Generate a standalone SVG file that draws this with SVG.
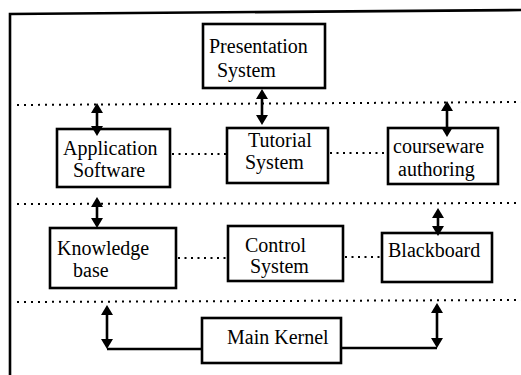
<svg xmlns="http://www.w3.org/2000/svg" width="521" height="375" viewBox="0 0 521 375">
  <style>
    .box { fill: #ffffff; stroke: #000000; stroke-width: 2.6; }
    .lbl { font-family: "Liberation Serif", "Times New Roman", "DejaVu Serif", serif; font-size: 20px; fill: #000000; }
    .frame { fill: none; stroke: #000000; stroke-width: 2.6; }
    .layer { fill: none; stroke: #000000; stroke-width: 2; stroke-dasharray: 2 5; }
    .link { fill: none; stroke: #000000; stroke-width: 2; stroke-dasharray: 2 4.5; }
    .arrow { fill: none; stroke: #000000; stroke-width: 2.6; marker-start: url(#head); marker-end: url(#head); }
    .wire { fill: none; stroke: #000000; stroke-width: 2.6; }
  </style>
  <defs>
    <marker id="head" viewBox="0 0 10 12" refX="7" refY="6" markerWidth="10" markerHeight="12" markerUnits="userSpaceOnUse" orient="auto-start-reverse">
      <path d="M0,0 L10,6 L0,12 z" fill="#000000"/>
    </marker>
  </defs>

  <rect width="521" height="375" fill="#ffffff"/>

  <!-- outer frame (open to the right and bottom) -->
  <path class="frame" d="M10,375 L10,14 L521,10"/>

  <!-- layer separators -->
  <g id="layers">
    <line class="layer" x1="17" y1="105" x2="521" y2="102"/>
    <line class="layer" x1="17" y1="204" x2="521" y2="203"/>
    <line class="layer" x1="17" y1="302" x2="521" y2="300"/>
  </g>

  <!-- nodes -->
  <g id="presentation">
    <rect class="box" x="203" y="24" width="122" height="64"/>
    <text class="lbl" x="209" y="53">Presentation</text>
    <text class="lbl" x="217" y="77">System</text>
  </g>
  <g id="application">
    <rect class="box" x="57" y="129" width="113" height="58"/>
    <text class="lbl" x="63" y="155">Application</text>
    <text class="lbl" x="73" y="177">Software</text>
  </g>
  <g id="tutorial">
    <rect class="box" x="227" y="128" width="101" height="55"/>
    <text class="lbl" x="248" y="147">Tutorial</text>
    <text class="lbl" x="245" y="169">System</text>
  </g>
  <g id="courseware">
    <rect class="box" x="388" y="128" width="110" height="56"/>
    <text class="lbl" x="393" y="153">courseware</text>
    <text class="lbl" x="398" y="176">authoring</text>
  </g>
  <g id="knowledge">
    <rect class="box" x="50" y="228" width="126" height="60"/>
    <text class="lbl" x="57" y="255">Knowledge</text>
    <text class="lbl" x="73" y="277">base</text>
  </g>
  <g id="control">
    <rect class="box" x="228" y="226" width="115" height="55"/>
    <text class="lbl" x="245" y="252">Control</text>
    <text class="lbl" x="250" y="273">System</text>
  </g>
  <g id="blackboard">
    <rect class="box" x="382" y="233" width="110" height="49"/>
    <text class="lbl" x="388" y="257">Blackboard</text>
  </g>
  <g id="kernel">
    <rect class="box" x="202" y="318" width="139" height="45"/>
    <text class="lbl" x="227" y="344">Main Kernel</text>
  </g>

  <!-- connectors, drawn over the boxes so arrowheads overlapping a box edge stay visible -->
  <g id="connectors">
    <line class="link" x1="172" y1="154" x2="226" y2="154"/>
    <line class="link" x1="330" y1="153" x2="387" y2="153"/>
    <line class="link" x1="178" y1="258" x2="227" y2="258"/>
    <line class="link" x1="345" y1="257" x2="381" y2="257"/>

    <line class="arrow" x1="262" y1="92" x2="262" y2="122"/>
    <line class="arrow" x1="97" y1="106" x2="97" y2="133"/>
    <line class="arrow" x1="447" y1="104" x2="447" y2="134"/>
    <line class="arrow" x1="97" y1="200" x2="97" y2="225"/>
    <line class="arrow" x1="438" y1="211" x2="438" y2="233"/>
    <line class="arrow" x1="107" y1="308" x2="107" y2="346"/>
    <line class="arrow" x1="437" y1="306" x2="437" y2="345"/>
    <polyline class="wire" points="107,349 202,349"/>
    <polyline class="wire" points="341,348 437,348"/>
  </g>
</svg>
